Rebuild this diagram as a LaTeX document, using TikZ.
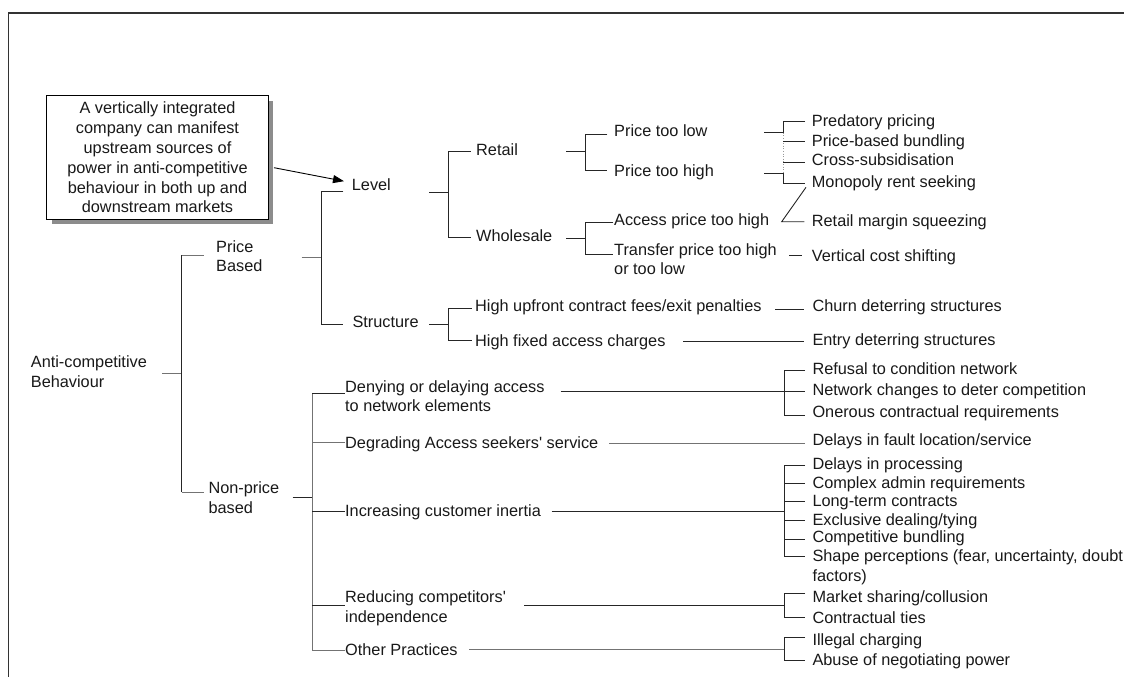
\documentclass[tikz,border=0pt]{standalone}
\usepackage{fontspec}
\setmainfont{Liberation Sans}
\usetikzlibrary{arrows.meta}
\tikzset{
  lbl/.style={anchor=north west, inner sep=0pt, align=left, text=black!90,
              font=\fontsize{16.3}{19.6}\selectfont},
  ln/.style={draw=black!85, line width=0.9pt},
  lnlite/.style={draw=black!55, line width=0.9pt},
  callout/.style={draw=black, line width=0.9pt, fill=white, inner sep=0pt,
                  minimum width=221.6pt, minimum height=123.6pt, align=center,
                  font=\fontsize{16.3}{19.85}\selectfont, text=black!90},
}
\begin{document}
\begin{tikzpicture}[x=1pt,y=-1pt]
\useasboundingbox (0,0) rectangle (1124,677);
\clip (0,0) rectangle (1124,677);
\fill[white] (0,0) rectangle (1124,677);

% outer frame (top and left edges)
\draw[black!80, line width=1.4pt] (8.5,677) -- (8.5,13) -- (1124,13);

% callout with drop shadow
\fill[black!45] (51.7,100.7) rectangle (273.3,224.3);
\node[callout] (note) at (157.5,157.5)
  {A vertically integrated\\company can manifest\\upstream sources of\\power in anti-competitive\\behaviour in both up and\\downstream markets};

% ---------- labels ----------
\node[lbl] (anti) at (30.7,355.9) {Anti-competitive\\Behaviour};
\node[lbl] (pb)   at (216,240.2) {Price\\Based};
\node[lbl] (npb)  at (208.3,481.9) {Non-price\\based};
\node[lbl] (lvl)  at (351.7,178.5) {Level};
\node[lbl] (str)  at (352.3,315.9) {Structure};
\node[lbl] (ret)  at (476,143.2) {Retail};
\node[lbl] (whs)  at (476,229.9) {Wholesale};
\node[lbl] (ptl)  at (614,124.9) {Price too low};
\node[lbl] (pth)  at (614,164.9) {Price too high};
\node[lbl] (aph)  at (614,213.5) {Access price too high};
\node[lbl] (tph)  at (614,243.2) {Transfer price too high\\or too low};
\node[lbl] (pred) at (811.7,114.9) {Predatory pricing};
\node[lbl] (pbb)  at (811.7,134.2) {Price-based bundling};
\node[lbl] (xsub) at (811.7,153.5) {Cross-subsidisation};
\node[lbl] (mono) at (811.7,175.2) {Monopoly rent seeking};
\node[lbl] (rms)  at (811.7,214.2) {Retail margin squeezing};
\node[lbl] (vcs)  at (811.7,249.2) {Vertical cost shifting};
\node[lbl] (huf)  at (475,299.9) {High upfront contract fees/exit penalties};
\node[lbl] (hfa)  at (475,334.2) {High fixed access charges};
\node[lbl] (churn) at (812.3,299.2) {Churn deterring structures};
\node[lbl] (entry) at (812.3,333.2) {Entry deterring structures};
\node[lbl] (deny) at (345,380.2) {Denying or delaying access\\to network elements};
\node[lbl] (degr) at (345,436.5) {Degrading Access seekers\textquotesingle\ service};
\node[lbl] (inc)  at (345,504.2) {Increasing customer inertia};
\node[lbl] (red)  at (345,590.9) {Reducing competitors\textquotesingle\\independence};
\node[lbl] (oth)  at (345,643.2) {Other Practices};
\node[lbl] (ref)  at (812.3,362.5) {Refusal to condition network};
\node[lbl] (netc) at (812.3,383.5) {Network changes to deter competition};
\node[lbl] (oner) at (812.3,405.2) {Onerous contractual requirements};
\node[lbl] (fault) at (812.3,433.5) {Delays in fault location/service};
\node[lbl] (dproc) at (812.3,457.5) {Delays in processing};
\node[lbl] (cadm) at (812.3,476.5) {Complex admin requirements};
\node[lbl] (ltc)  at (812.3,494.9) {Long-term contracts};
\node[lbl] (excl) at (812.3,513.2) {Exclusive dealing/tying};
\node[lbl] (cbun) at (812.3,530.9) {Competitive bundling};
\node[lbl] (shape) at (812.3,549.9) {Shape perceptions (fear, uncertainty, doubt\\factors)};
\node[lbl] (mshr) at (812.3,590.2) {Market sharing/collusion};
\node[lbl] (ctie) at (812.3,611.5) {Contractual ties};
\node[lbl] (illc) at (812.3,633.2) {Illegal charging};
\node[lbl] (abuse) at (812.3,653.5) {Abuse of negotiating power};

% callout arrow to Level
\coordinate (noteTail) at (274,167.7);
\coordinate (lvlTip) at (344,181.2);
\draw[black, line width=0.9pt, -{Triangle[length=11pt,width=8pt]}] (noteTail) -- (lvlTip);

% ---------- root bracket ----------
\coordinate (a0) at (162.3,373.3);
\coordinate (a1) at (181.7,373.3);
\coordinate (aT) at (181.7,255);
\coordinate (aB) at (181.7,492.3);
\draw[lnlite] (a0) -- (a1);
\draw[ln] (aT) -- (aB);
\draw[lnlite] (aT) -- (204,255);
\draw[lnlite] (aB) -- (204,492.3);

% ---------- price based: level / structure ----------
\coordinate (b0) at (301.7,257.7);
\coordinate (bT) at (321.7,191);
\coordinate (bB) at (321.7,324);
\draw[lnlite] (b0) -- (321.7,257.7);
\draw[ln] (343.3,191) -- (bT) -- (bB) -- (343.3,324);

% level: retail / wholesale
\draw[ln] (429.3,192.7) -- (448.3,192.7);
\draw[ln] (470.7,151) -- (448.3,151) -- (448.3,237.3) -- (470.7,237.3);

% retail: too low / too high
\draw[ln] (566,151.7) -- (585.7,151.7);
\draw[ln] (607.3,134.3) -- (585.7,134.3) -- (585.7,170) -- (607.3,170);

% wholesale: access / transfer
\draw[ln] (566,238.7) -- (585.7,238.7);
\draw[ln] (613.3,222.3) -- (585.7,222.3) -- (585.7,254.7) -- (613.3,254.7);

% retail pricing outcomes
\draw[ln] (764,132.7) -- (783.3,132.7);
\draw[ln] (764,173) -- (783.3,173);
\draw[ln] (805,121) -- (783.3,121) -- (783.3,132.7);
\draw[black!40, line width=0.6pt, dotted] (783.3,132.7) -- (783.3,173);
\draw[ln] (783.3,173) -- (783.3,183.3) -- (805,183.3);
\draw[ln] (783.3,141.7) -- (805,141.7);
\draw[ln] (783.3,162.3) -- (805,162.3);

% access price -> retail margin squeezing
\draw[ln] (806,187.3) -- (781.7,221.7) -- (804.3,221.7);
% transfer price -> vertical cost shifting
\draw[ln] (789.3,255.7) -- (802.3,255.7);

% structure branch
\draw[ln] (429,324.3) -- (448.3,324.3);
\draw[ln] (471.7,308.3) -- (448.3,308.3) -- (448.3,340.7) -- (471.7,340.7);
\draw[ln] (775,309) -- (804,309);
\draw[ln] (683.3,341) -- (804,341);

% ---------- non-price branch ----------
\draw[ln] (292.7,497.3) -- (312.3,497.3);
\draw[lnlite] (312.3,393.3) -- (312.3,650.7);
\draw[ln] (312.3,393.3) -- (345,393.3);
\draw[lnlite] (312.3,442.7) -- (345,442.7);
\draw[ln] (312.3,511) -- (345,511);
\draw[ln] (312.3,605.7) -- (345,605.7);
\draw[lnlite] (312.3,650) -- (345,650);

% denying
\draw[ln] (560.7,391.5) -- (784,391.5);
\draw[ln] (805,370.7) -- (784,370.7) -- (784,415) -- (805,415);
\draw[ln] (784,391.5) -- (805,391.5);

% degrading
\draw[lnlite] (609.3,443.3) -- (805,443.3);

% increasing
\draw[ln] (551.7,511) -- (784,511);
\draw[ln] (805,465) -- (784,465) -- (784,556.7) -- (805,556.7);
\foreach \yy in {483.3,501.7,520.7,539} \draw[ln] (784,\yy) -- (805,\yy);

% reducing
\draw[ln] (524.3,605.7) -- (784,605.7);
\draw[ln] (805,593.3) -- (784,593.3) -- (784,617.3) -- (805,617.3);

% other
\draw[lnlite] (469.3,649) -- (784,649);
\draw[ln] (805,637.7) -- (784,637.7) -- (784,660) -- (805,660);
\end{tikzpicture}
\end{document}
